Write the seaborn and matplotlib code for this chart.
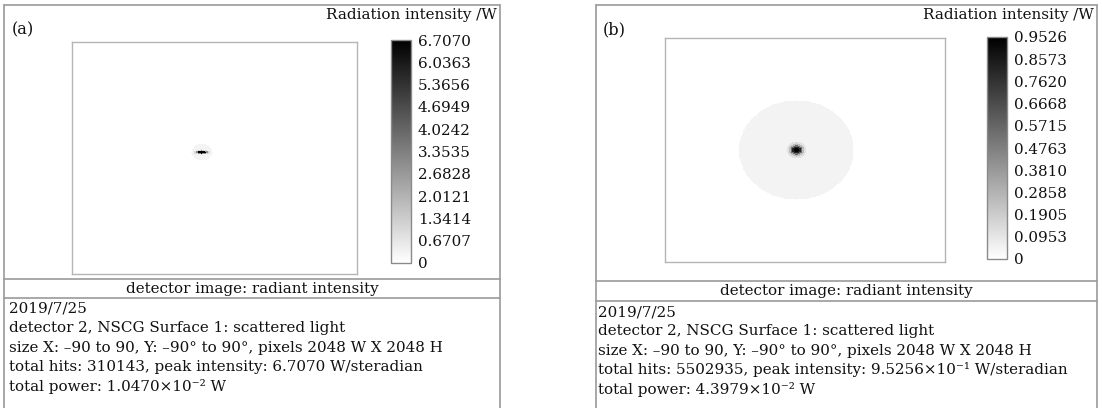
import numpy as np
import matplotlib
matplotlib.use("Agg")
import matplotlib.pyplot as plt
from matplotlib.lines import Line2D
import seaborn as sns

# ---------------------------------------------------------------- data
# detector extent (degrees) and sampling
angle_min, angle_max, angle_step = -90.0, 90.0, 0.5

# panel (a): narrow scattered spot
a_peak = 6.7070
a_center = (-8.0, 4.5)                 # X, Y in degrees
a_core_axes = (2.6, 1.0)               # ellipse half-axes of the bright core (deg)
a_core_radii = [1.0, 1.5, 2.0]         # normalised elliptical radius of each core band
a_core_levels = [6.7070, 3.0, 1.0]     # intensity inside each core band
a_halo_size = (6.5, 6.5)               # half-axes of the faint halo (deg)
a_halo_level = 0.30
a_ticks = [0, 0.6707, 1.3414, 2.0121, 2.6828, 3.3535, 4.0242, 4.6949, 5.3656, 6.0363, 6.7070]
a_tick_labels = ["0", "0.6707", "1.3414", "2.0121", "2.6828", "3.3535",
                 "4.0242", "4.6949", "5.3656", "6.0363", "6.7070"]
a_info = ["2019/7/25",
          "detector 2, NSCG Surface 1: scattered light",
          "size X: \u201390 to 90, Y: \u201390\u00b0 to 90\u00b0, pixels 2048 W X 2048 H",
          "total hits: 310143, peak intensity: 6.7070 W/steradian",
          "total power: 1.0470\u00d710\u207b\u00b2 W"]

# panel (b): wide scattered halo with a bright core
b_peak = 0.9526
b_center = (-5.5, 0.0)
b_core_axes = (1.0, 1.0)
b_core_radii = [1.7, 2.7, 3.7, 5.0, 6.5]
b_core_levels = [0.9526, 0.82, 0.55, 0.25, 0.11]
b_halo_size = (37.0, 40.0)
b_halo_level = 0.045
b_ticks = [0, 0.0953, 0.1905, 0.2858, 0.3810, 0.4763, 0.5715, 0.6668, 0.7620, 0.8573, 0.9526]
b_tick_labels = ["0", "0.0953", "0.1905", "0.2858", "0.3810", "0.4763",
                 "0.5715", "0.6668", "0.7620", "0.8573", "0.9526"]
b_info = ["2019/7/25",
          "detector 2, NSCG Surface 1: scattered light",
          "size X: \u201390 to 90, Y: \u201390\u00b0 to 90\u00b0, pixels 2048 W X 2048 H",
          "total hits: 5502935, peak intensity: 9.5256\u00d710\u207b\u00b9 W/steradian",
          "total power: 4.3979\u00d710\u207b\u00b2 W"]

title_top = "Radiation intensity /W"
title_bar = "detector image: radiant intensity"

# ---------------------------------------------------------------- figure
W, H = 1102, 408
sns.set_theme(style="white")
plt.rcParams["font.family"] = ["DejaVu Serif"]
fig = plt.figure(figsize=(W / 100, H / 100), dpi=100)
fig.patch.set_facecolor("white")

FS = 10.9
FRAME = "#9a9a9a"


def box(x0, y0, x1, y1):
    """Axes rectangle from pixel corners (origin top-left)."""
    return fig.add_axes([x0 / W, 1 - y1 / H, (x1 - x0) / W, (y1 - y0) / H])


def hline(x0, x1, y, color=FRAME, lw=1.2):
    fig.add_artist(Line2D([x0 / W, x1 / W], [1 - y / H, 1 - y / H],
                          transform=fig.transFigure, color=color, lw=lw))


def vline(x, y0, y1, color=FRAME, lw=1.2):
    fig.add_artist(Line2D([x / W, x / W], [1 - y0 / H, 1 - y1 / H],
                          transform=fig.transFigure, color=color, lw=lw))


def text(x, y, s, size=FS, **kw):
    fig.text(x / W, 1 - y / H, s, fontsize=size, color="#111111", **kw)


def detector_image(center, core_axes, core_radii, core_levels, halo_size, halo_level):
    xs = np.arange(angle_min, angle_max + angle_step / 2, angle_step)
    ys = xs[::-1]
    gx, gy = np.meshgrid(xs, ys)
    dx, dy = gx - center[0], gy - center[1]
    img = np.zeros_like(gx)
    img[np.hypot(dx / halo_size[0], dy / halo_size[1]) <= 1.0] = halo_level
    r_core = np.hypot(dx / core_axes[0], dy / core_axes[1])
    # paint the core bands from the outside in
    for rad, lev in sorted(zip(core_radii, core_levels), reverse=True):
        img[r_core <= rad] = lev
    return img


def panel(frame_x, bar_y, img_box, cbar_box, label, label_xy, img, vmax,
          ticks, tick_labels, info, info_x, info_y0, line_gap):
    fx0, fx1 = frame_x
    # outer frame
    hline(fx0, fx1, 5)
    vline(fx0, 5, H + 2)
    vline(fx1, 5, H + 2)
    hline(fx0, fx1, bar_y[0])
    hline(fx0, fx1, bar_y[1])

    ax = box(*img_box)
    cax = box(*cbar_box)
    sns.heatmap(img, ax=ax, cmap="gray_r", vmin=0, vmax=vmax, cbar=True,
                cbar_ax=cax, xticklabels=False, yticklabels=False,
                rasterized=True, cbar_kws={"ticks": ticks})
    for s in ax.spines.values():
        s.set_visible(True)
        s.set_color("#b5b5b5")
        s.set_linewidth(1.0)
    cb = ax.collections[0].colorbar
    cb.set_ticks(ticks)
    cb.set_ticklabels(tick_labels)
    cb.outline.set_visible(True)
    cb.outline.set_edgecolor("#8a8a8a")
    cb.outline.set_linewidth(1.0)
    cax.tick_params(length=0, pad=5, labelsize=FS, colors="#111111")

    text(fx1 - 3, 15, title_top, ha="right", va="center")
    text(label_xy[0], label_xy[1], label, size=FS + 0.8, ha="left", va="center")
    text((fx0 + fx1) / 2, (bar_y[0] + bar_y[1]) / 2, title_bar,
         ha="center", va="center")
    for i, line in enumerate(info):
        text(info_x, info_y0 + i * line_gap, line, ha="left", va="center")


img_a = detector_image(a_center, a_core_axes, a_core_radii, a_core_levels,
                       a_halo_size, a_halo_level)
img_b = detector_image(b_center, b_core_axes, b_core_radii, b_core_levels,
                       b_halo_size, b_halo_level)

panel((4, 500), (279, 298), (72, 42, 357, 274), (391, 40, 411, 263), "(a)",
      (12, 30), img_a, a_peak, a_ticks, a_tick_labels, a_info, 9, 309, 19.3)
panel((596, 1097), (281, 301), (665, 38, 945, 262), (987, 37, 1007, 259), "(b)",
      (603, 30), img_b, b_peak, b_ticks, b_tick_labels, b_info, 598, 312, 19.3)

fig.savefig("out.png", dpi=100, facecolor="white")
